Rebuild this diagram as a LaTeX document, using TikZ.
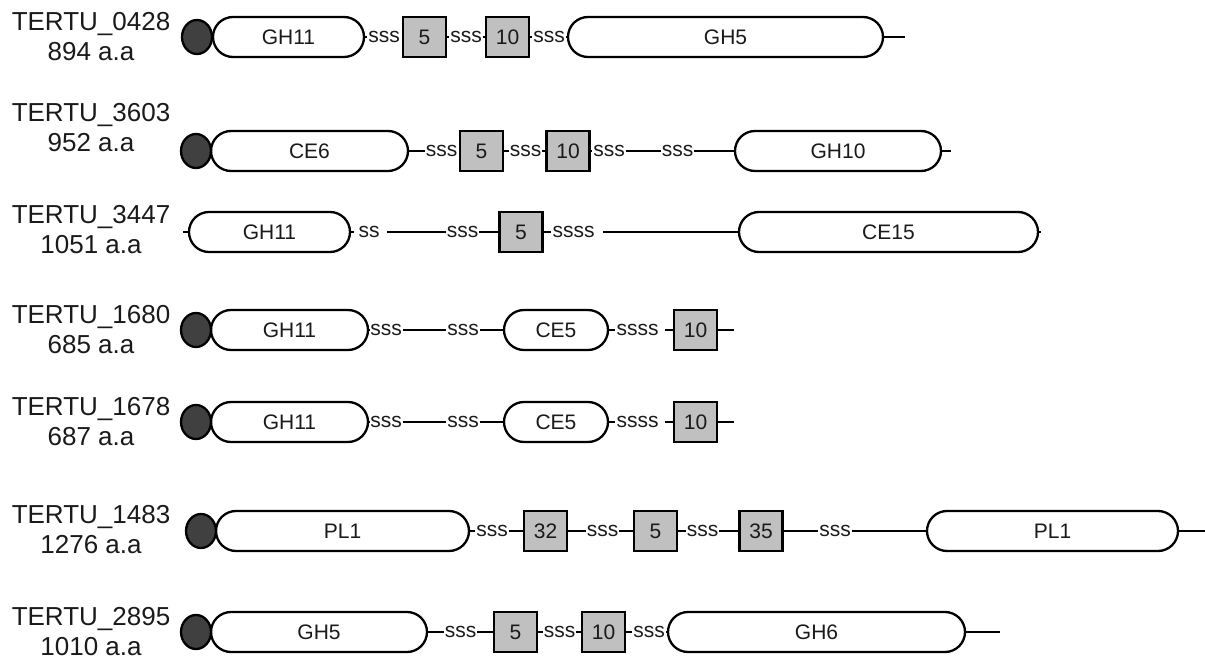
\documentclass[tikz,border=0pt]{standalone}
\usepackage{fontspec}
\setmainfont{Liberation Sans}
\usetikzlibrary{shapes.geometric}
\definecolor{boxgray}{HTML}{C0C0C0}
\definecolor{sigfill}{HTML}{404040}
\definecolor{txt}{HTML}{1A1A1A}
\begin{document}
\begin{tikzpicture}[x=1pt,y=-1pt,
 lbl/.style={align=center, font=\fontsize{26}{30}\selectfont, text=txt, inner sep=0pt},
 dom/.style={draw, line width=2.3pt, fill=white, rounded corners=20pt, minimum height=40pt, inner sep=0pt, text=txt, font=\fontsize{21}{21}\selectfont},
 modbox/.style={draw, line width=2.3pt, fill=boxgray, minimum width=43pt, minimum height=40pt, inner sep=0pt, text=txt, font=\fontsize{21}{21}\selectfont},
 sig/.style={ellipse, draw, line width=2.3pt, fill=sigfill, minimum width=30pt, minimum height=34pt, inner sep=0pt},
 lnk/.style={inner sep=1pt, text=txt, font=\fontsize{21}{21}\selectfont},
 conn/.style={line width=2.3pt}]
\useasboundingbox (0,0) rectangle (1205,668);

% Row 1
\node[lbl] (l1) at (91,37) {TERTU\_0428\\894 a.a};
\node[dom, minimum width=151pt] (a1) at (288.5,37) {GH11};
\node[sig] (s1) at (197,37) {};
\node[lnk] (k11) at (384,37) {sss};
\node[modbox] (b11) at (424.5,37) {5};
\node[lnk] (k12) at (466,37) {sss};
\node[modbox] (b12) at (507.5,37) {10};
\node[lnk] (k13) at (549,37) {sss};
\node[dom, minimum width=315pt] (c1) at (725.5,37) {GH5};
\coordinate (e1) at (905,37);
\draw[conn] (a1.east) -- (k11.west) (b11.east) -- (k12.west) (k12.east) -- (b12.west)
 (b12.east) -- (k13.west) (k13.east) -- (c1.west) (c1.east) -- (e1);

% Row 2
\node[lbl] (l2) at (91,128) {TERTU\_3603\\952 a.a};
\node[dom, minimum width=197pt] (a2) at (309.5,151) {CE6};
\node[sig] (s2) at (196,151) {};
\node[lnk] (k21) at (441.5,151) {sss};
\node[modbox] (b21) at (481.5,151) {5};
\node[lnk] (k22) at (525.5,151) {sss};
\node[modbox] (b22) at (568,151) {10};
\node[lnk] (k23) at (609,151) {sss};
\node[lnk] (k24) at (677.5,151) {sss};
\node[dom, minimum width=206pt] (c2) at (838,151) {GH10};
\coordinate (e2) at (951,151);
\draw[conn] (a2.east) -- (k21.west) (b21.east) -- (k22.west) (k22.east) -- (b22.west)
 (b22.east) -- (k23.west) (k23.east) -- (k24.west) (k24.east) -- (c2.west) (c2.east) -- (e2);

% Row 3
\node[lbl] (l3) at (91,230) {TERTU\_3447\\1051 a.a};
\coordinate (s3) at (183,232);
\node[dom, minimum width=161pt] (a3) at (269.5,232) {GH11};
\coordinate (t3) at (354,232);
\node[lnk] (k31) at (369,232) {ss};
\coordinate (u3) at (387,232);
\node[lnk] (k32) at (462.5,232) {sss};
\node[modbox] (b31) at (521,232) {5};
\node[lnk] (k33) at (573.5,232) {ssss};
\coordinate (v3) at (603,232);
\node[dom, minimum width=299pt] (c3) at (888.5,232) {CE15};
\coordinate (e3) at (1041,232);
\draw[conn] (s3) -- (a3.west) (a3.east) -- (t3) (u3) -- (k32.west) (k32.east) -- (b31.west)
 (b31.east) -- (k33.west) (v3) -- (c3.west) (c3.east) -- (e3);

% Row 4
\node[lbl] (l4) at (91,330) {TERTU\_1680\\685 a.a};
\node[dom, minimum width=157pt] (a4) at (289.5,330) {GH11};
\node[sig] (s4) at (196,330) {};
\node[lnk] (k41) at (386,330) {sss};
\node[lnk] (k42) at (463,330) {sss};
\node[dom, minimum width=104pt] (c4) at (556,330) {CE5};
\node[lnk] (k43) at (637.5,330) {ssss};
\node[modbox] (b41) at (695.5,330) {10};
\coordinate (e4) at (734,330);
\draw[conn] (a4.east) -- (k41.west) (k41.east) -- (k42.west) (k42.east) -- (c4.west)
 (c4.east) -- (k43.west) (b41.west) -- ++(-8,0) (b41.east) -- (e4);

% Row 5
\node[lbl] (l5) at (91,422) {TERTU\_1678\\687 a.a};
\node[dom, minimum width=157pt] (a5) at (289.5,422) {GH11};
\node[sig] (s5) at (196,422) {};
\node[lnk] (k51) at (386,422) {sss};
\node[lnk] (k52) at (463,422) {sss};
\node[dom, minimum width=104pt] (c5) at (556,422) {CE5};
\node[lnk] (k53) at (637.5,422) {ssss};
\node[modbox] (b51) at (695.5,422) {10};
\coordinate (e5) at (734,422);
\draw[conn] (a5.east) -- (k51.west) (k51.east) -- (k52.west) (k52.east) -- (c5.west)
 (c5.east) -- (k53.west) (b51.west) -- ++(-8,0) (b51.east) -- (e5);

% Row 6
\node[lbl] (l6) at (91,530) {TERTU\_1483\\1276 a.a};
\node[dom, minimum width=253pt] (a6) at (342.5,531) {PL1};
\node[sig] (s6) at (201,531) {};
\node[lnk] (k61) at (492,531) {sss};
\node[modbox] (b61) at (545.5,531) {32};
\node[lnk] (k62) at (602.5,531) {sss};
\node[modbox] (b62) at (655.5,531) {5};
\node[lnk] (k63) at (702.5,531) {sss};
\node[modbox] (b63) at (761,531) {35};
\node[lnk] (k64) at (835,531) {sss};
\node[dom, minimum width=251pt] (c6) at (1052.5,531) {PL1};
\coordinate (e6) at (1205,531);
\draw[conn] (a6.east) -- (k61.west) (k61.east) -- (b61.west) (b61.east) -- (k62.west)
 (k62.east) -- (b62.west) (b62.east) -- (k63.west) (k63.east) -- (b63.west)
 (b63.east) -- (k64.west) (k64.east) -- (c6.west) (c6.east) -- (e6);

% Row 7
\node[lbl] (l7) at (91,632) {TERTU\_2895\\1010 a.a};
\node[dom, minimum width=216pt] (a7) at (319,632) {GH5};
\node[sig] (s7) at (196,632) {};
\node[lnk] (k71) at (460.5,632) {sss};
\node[modbox] (b71) at (515.5,632) {5};
\node[lnk] (k72) at (559.5,632) {sss};
\node[modbox] (b72) at (603.5,632) {10};
\node[lnk] (k73) at (649,632) {sss};
\node[dom, minimum width=297pt] (c7) at (816.5,632) {GH6};
\coordinate (e7) at (1000,632);
\draw[conn] (a7.east) -- (k71.west) (k71.east) -- (b71.west) (b71.east) -- (k72.west)
 (k72.east) -- (b72.west) (b72.east) -- (k73.west) (k73.east) -- (c7.west) (c7.east) -- (e7);
\end{tikzpicture}
\end{document}
